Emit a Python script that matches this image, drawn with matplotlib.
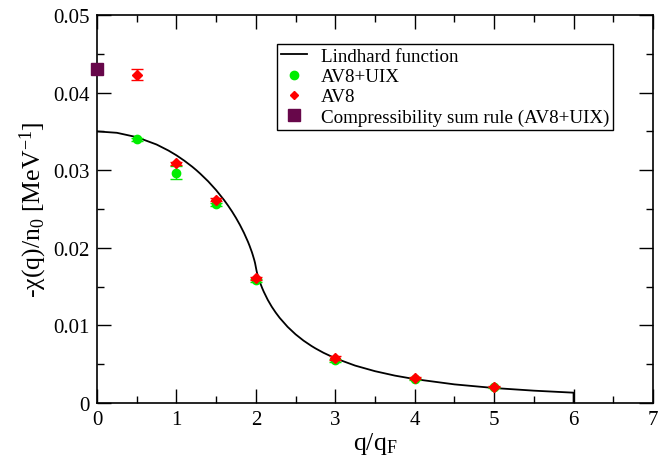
import matplotlib
matplotlib.use("Agg")
import matplotlib.pyplot as plt
from matplotlib.lines import Line2D
import numpy as np

plt.rcParams['font.family'] = ['Liberation Serif', 'DejaVu Serif']
plt.rcParams['mathtext.fontset'] = 'custom'
plt.rcParams['mathtext.rm'] = 'Liberation Serif'
plt.rcParams['mathtext.it'] = 'Liberation Serif:italic'
plt.rcParams['mathtext.default'] = 'rm'

# Lindhard curve
lind_x = [0.0, 0.25, 0.5, 0.75, 0.9, 1.0, 1.1, 1.2, 1.25, 1.3, 1.4, 1.5, 1.6, 1.65,
          1.7, 1.75, 1.8, 1.85, 1.9, 1.92, 1.95, 1.96, 1.98, 1.99, 2.0, 2.01, 2.02,
          2.04, 2.05, 2.08, 2.1, 2.15, 2.2, 2.25, 2.3, 2.4, 2.5, 2.6, 2.7, 2.75,
          2.85, 3.0, 3.25, 3.5, 3.75, 4.0, 4.5, 5.0, 5.5, 6.0]
lind_y = [0.0350, 0.03482, 0.03426, 0.03331, 0.03253, 0.03192, 0.03122, 0.03044,
          0.03001, 0.02955, 0.02856, 0.02743, 0.02615, 0.02544, 0.02468, 0.02385,
          0.02294, 0.02193, 0.02079, 0.02028, 0.01944, 0.01912, 0.01843, 0.01803,
          0.01750, 0.01698, 0.01658, 0.01590, 0.01560, 0.01480, 0.01433, 0.01329,
          0.01241, 0.01165, 0.01097, 0.00981, 0.00885, 0.00804, 0.00735, 0.00704,
          0.00648, 0.00576, 0.00482, 0.00410, 0.00353, 0.00308, 0.00240, 0.00193,
          0.00159, 0.00133]

# AV8+UIX
uix_x = [0.5, 1.0, 1.5, 2.0, 3.0, 4.0, 5.0]
uix_y = [0.0340, 0.0297, 0.0256, 0.0158, 0.0055, 0.0031, 0.0020]
uix_err = [0.0002, 0.0008, 0.0002, 0.0002, 0.0002, 0.0001, 0.0001]

# AV8
av8_x = [0.5, 1.0, 1.5, 2.0, 3.0, 4.0, 5.0]
av8_y = [0.0423, 0.0309, 0.0262, 0.0161, 0.0058, 0.0032, 0.0021]
av8_err = [0.0007, 0.0002, 0.0002, 0.0002, 0.0002, 0.0001, 0.0001]

# compressibility sum rule
csr_x = [0.0]
csr_y = [0.0430]

green = '#00ee00'
red = '#ff0000'
maroon = '#67074a'

fig = plt.figure(figsize=(6.58, 4.6), dpi=100)
ax = fig.add_axes([97/658, 1-404/460, (653-97)/658, (404-16)/460])

# curve ends with a drop to zero at x=6 (as in the original)
ax.plot(lind_x + [lind_x[-1]], lind_y + [0.0], color='black', lw=1.3, zorder=2)
ax.errorbar(uix_x, uix_y, yerr=uix_err, fmt='o', color=green, ms=6,
            mec=green, ecolor=green, elinewidth=1, capsize=4.5, capthick=1,
            zorder=3)
ax.errorbar(av8_x, av8_y, yerr=av8_err, fmt='D', color=red, ms=5,
            mec=red, ecolor=red, elinewidth=1, capsize=4.5, capthick=1,
            zorder=4)
ax.plot(csr_x, csr_y, 's', color=maroon, ms=9, clip_on=False, zorder=5)

ax.set_xlim(0, 7)
ax.set_ylim(0, 0.05)
ax.set_xticks(np.arange(0, 8, 1))
ax.set_xticks(np.arange(0, 7.01, 0.5), minor=True)
ax.set_yticks([0, 0.01, 0.02, 0.03, 0.04, 0.05])
ax.set_yticklabels(['0', '0.01', '0.02', '0.03', '0.04', '0.05'])
ax.set_yticks(np.arange(0, 0.0501, 0.005), minor=True)
ax.tick_params(which='both', direction='in', top=True, right=True,
               labelsize=15, width=1)
ax.tick_params(which='major', length=10, pad=5)
ax.tick_params(which='minor', length=5)
for s in ax.spines.values():
    s.set_linewidth(1.2)

ax.set_xlabel('q/q$_{\\mathrm{F}}$', fontsize=18.5, labelpad=1)
ax.set_ylabel('-χ(q)/n$_0$ [MeV$^{-1}$]', fontsize=18.5, labelpad=3)

handles = [
    Line2D([], [], color='black', lw=1.3),
    Line2D([], [], ls='none', marker='o', color=green, ms=6),
    Line2D([], [], ls='none', marker='D', color=red, ms=4.5),
    Line2D([], [], ls='none', marker='s', color=maroon, ms=8),
]
labels = ['Lindhard function', 'AV8+UIX', 'AV8',
          'Compressibility sum rule (AV8+UIX)']
leg = ax.legend(handles, labels, loc='upper left',
                bbox_to_anchor=((277-97)/556, 1-(45-16)/388),
                fontsize=13.7, frameon=True, fancybox=False, edgecolor='black',
                borderpad=0.2, labelspacing=0.15, handlelength=1.4,
                handletextpad=0.7, borderaxespad=0, framealpha=1)
leg.get_frame().set_linewidth(1)

fig.savefig('out.png', dpi=100)
